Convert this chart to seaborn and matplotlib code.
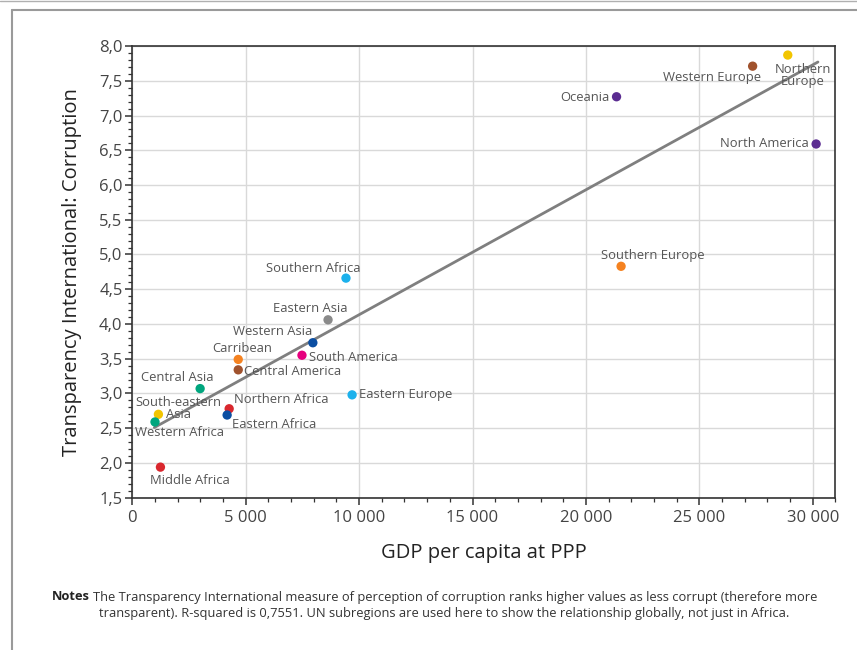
import numpy as np
import pandas as pd
import matplotlib
matplotlib.use("Agg")
import matplotlib.pyplot as plt
from matplotlib.ticker import FuncFormatter, MultipleLocator
from matplotlib.lines import Line2D
import seaborn as sns

# UN subregions: GDP per capita at PPP vs. Transparency International score
regions = [
    "Northern\nEurope", "Western Europe", "Oceania", "North America",
    "Southern Europe", "Southern Africa", "Eastern Asia", "Western Asia",
    "South America", "Carribean", "Central America", "Central Asia",
    "Eastern Europe", "South-eastern\nAsia", "Northern Africa",
    "Eastern Africa", "Western Africa", "Middle Africa",
]
gdp = [28900, 27350, 21350, 30150, 21550, 9420, 8630, 7960,
       7480, 4670, 4670, 2990, 9690, 1150, 4270, 4180, 1000, 1240]
corruption = [7.87, 7.71, 7.27, 6.59, 4.83, 4.66, 4.06, 3.73,
              3.55, 3.49, 3.34, 3.07, 2.98, 2.70, 2.78, 2.69, 2.59, 1.94]
colors = ["#f2c500", "#a0522d", "#5b2c91", "#5b2c91", "#f58220", "#1cb1ec",
          "#8a8a8a", "#0b4ea2", "#e6007e", "#f58220", "#a0522d", "#00a67e",
          "#1cb1ec", "#f2c500", "#d9272e", "#0b4ea2", "#00a67e", "#d9272e"]

# linear trend (R-squared 0,7551), endpoints over the data range
trend_gdp = [970, 30230]
trend_corruption = [2.51, 7.77]

# label placement: (dx, dy) in pixels from the point, horizontal alignment
label_layout = {
    "Northern\nEurope": (15, -20, "center"),
    "Western Europe": (8, -11, "right"),
    "Oceania": (-7, -1, "right"),
    "North America": (-7, 1, "right"),
    "Southern Europe": (32, 11, "center"),
    "Southern Africa": (-33, 10, "center"),
    "Eastern Asia": (-18, 11, "center"),
    "Western Asia": (-40, 11, "center"),
    "South America": (7, -2, "left"),
    "Carribean": (4, 11, "center"),
    "Central America": (6, -2, "left"),
    "Central Asia": (-23, 11, "center"),
    "Eastern Europe": (7, 0, "left"),
    "South-eastern\nAsia": (20, 6, "center"),
    "Northern Africa": (5, 9, "left"),
    "Eastern Africa": (5, -9, "left"),
    "Western Africa": (24, -11, "center"),
    "Middle Africa": (29, -13, "center"),
}

df = pd.DataFrame({"region": regions, "gdp": gdp, "cpi": corruption})
trend = pd.DataFrame({"gdp": trend_gdp, "cpi": trend_corruption})

sns.set_theme(style="white")
plt.rcParams["font.family"] = ["Open Sans", "DejaVu Sans"]

fig = plt.figure(figsize=(8.57, 6.5), dpi=100)
ax = fig.add_axes([0.1544, 0.2343, 0.8204, 0.6949])

# grid
ax.set_axisbelow(True)
ax.grid(True, which="major", color="#d9d9d9", linewidth=1.0)

sns.lineplot(data=trend, x="gdp", y="cpi", color="#7f7f7f", linewidth=2.0, ax=ax)

sns.scatterplot(data=df, x="gdp", y="cpi", hue="region",
                palette=dict(zip(regions, colors)), s=45, linewidth=0,
                legend=False, ax=ax, zorder=3)

for name, x, y in zip(regions, gdp, corruption):
    dx, dy, ha = label_layout[name]
    ax.annotate(name, (x, y), xytext=(dx, dy), textcoords="offset pixels",
                ha=ha, va="center", fontsize=9.4, color="#555555",
                linespacing=0.9, zorder=4)

ax.set_xlim(0, 31000)
ax.set_ylim(1.5, 8.0)
ax.xaxis.set_major_locator(MultipleLocator(5000))
ax.xaxis.set_minor_locator(MultipleLocator(1000))
ax.yaxis.set_major_locator(MultipleLocator(0.5))
ax.yaxis.set_minor_locator(MultipleLocator(0.1))
ax.xaxis.set_major_formatter(FuncFormatter(lambda v, p: f"{int(round(v)):,}".replace(",", " ")))
ax.yaxis.set_major_formatter(FuncFormatter(lambda v, p: f"{v:.1f}".replace(".", ",")))

ax.tick_params(axis="both", which="major", direction="out", length=5, width=1.1,
               color="#333333", labelsize=12, labelcolor="#444444", pad=2,
               left=True, bottom=True)
ax.tick_params(axis="x", which="major", pad=4)
ax.tick_params(axis="both", which="minor", direction="out", length=3, width=0.9,
               color="#333333", left=True, bottom=True)

for side in ["left", "bottom", "top", "right"]:
    ax.spines[side].set_visible(True)
    ax.spines[side].set_color("#333333")
    ax.spines[side].set_linewidth(1.2)

ax.set_xlabel("GDP per capita at PPP", fontsize=14.5, color="#222222", labelpad=12)
ax.set_ylabel("Transparency International: Corruption", fontsize=14.5,
              color="#222222", labelpad=12)

# notes below the chart
fig.text(52 / 857, 1 - 597 / 650, "Notes", fontsize=9.3, fontweight="bold",
         color="#222222", ha="left", va="center")
fig.text(93 / 857, 1 - 597 / 650,
         "The Transparency International measure of perception of corruption ranks higher "
         "values as less corrupt (therefore more",
         fontsize=9.3, color="#333333", ha="left", va="center")
fig.text(444 / 857, 1 - 614 / 650,
         "transparent). R-squared is 0,7551. UN subregions are used here to show the "
         "relationship globally, not just in Africa.",
         fontsize=9.3, color="#333333", ha="center", va="center")

# outer frame
fig.add_artist(Line2D([12 / 857, 12 / 857], [0, 1 - 10 / 650], transform=fig.transFigure,
                      color="#9a9a9a", linewidth=1.5))
fig.add_artist(Line2D([12 / 857, 1], [1 - 10 / 650, 1 - 10 / 650], transform=fig.transFigure,
                      color="#9a9a9a", linewidth=1.5))
fig.add_artist(Line2D([0, 1], [1 - 1 / 650, 1 - 1 / 650], transform=fig.transFigure,
                      color="#b0b0b0", linewidth=1.0))

fig.savefig("out.png", dpi=100)
